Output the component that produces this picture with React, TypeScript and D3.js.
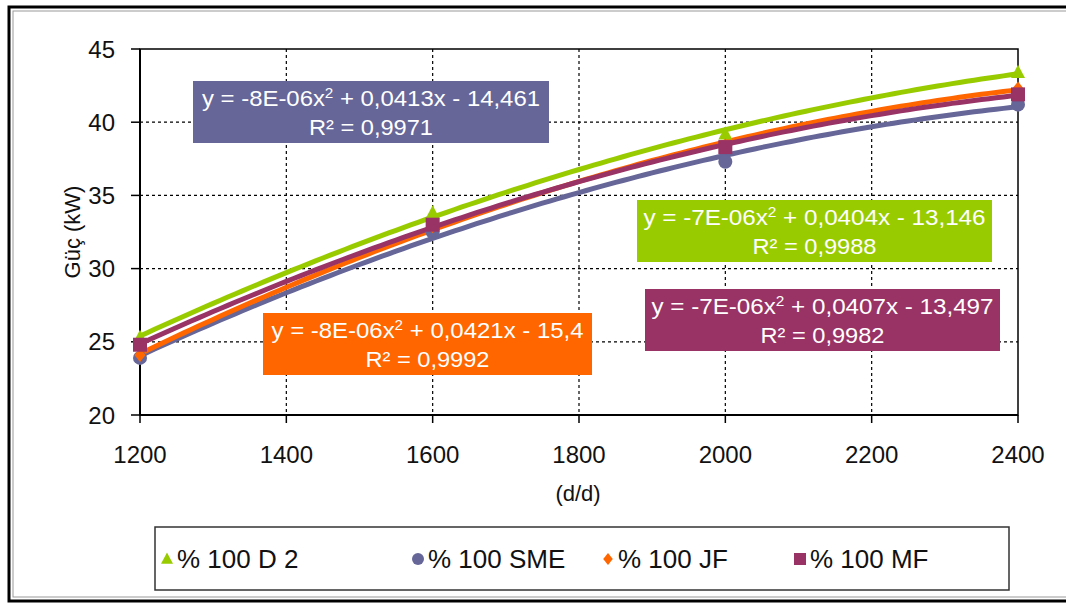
import React from 'react'
import * as d3 from 'd3'

// rpm values (d/d) and measured power (kW)
const rpm = [1200, 1600, 2000, 2400]
const d2Values = [25.3, 33.8, 39.2, 43.4]
const smeValues = [23.9, 32.5, 37.3, 41.2]
const jfValues = [24.1, 32.9, 38.4, 42.3]
const mfValues = [24.8, 33.0, 38.3, 41.9]

const xTicks = [1200, 1400, 1600, 1800, 2000, 2200, 2400]
const yTicks = [20, 25, 30, 35, 40, 45]

const seriesNames = ['% 100 D 2', '% 100 SME', '% 100 JF', '% 100 MF']
const seriesColors = ['#99cc00', '#666699', '#ff6600', '#993366']
const seriesShapes = ['triangle', 'circle', 'diamond', 'square']

const eqLine1 = [
  ['y = -7E-06x', ' + 0,0404x - 13,146'],
  ['y = -8E-06x', ' + 0,0413x - 14,461'],
  ['y = -8E-06x', ' + 0,0421x - 15,4'],
  ['y = -7E-06x', ' + 0,0407x - 13,497'],
]
const eqLine2 = ['R² = 0,9988', 'R² = 0,9971', 'R² = 0,9992', 'R² = 0,9982']

// label boxes [x, y, w, h, line1 length]
const eqBoxes = [
  [637, 200, 355, 62, 342],
  [193, 81, 356, 62, 338],
  [263, 313, 329, 62, 312],
  [645, 289, 355, 62, 342],
]

const margin = { left: 140, top: 49, right: 1018, bottom: 415 }
const font = 'Arial, "Liberation Sans", sans-serif'

// least squares quadratic, like an excel polynomial trendline
function quadFit(xs: number[], ys: number[]) {
  const s = [0, 0, 0, 0, 0]
  const t = [0, 0, 0]
  xs.forEach((x, i) => {
    for (let k = 0; k < 5; k++) s[k] += Math.pow(x, k)
    for (let k = 0; k < 3; k++) t[k] += Math.pow(x, k) * ys[i]
  })
  const m = [
    [s[0], s[1], s[2], t[0]],
    [s[1], s[2], s[3], t[1]],
    [s[2], s[3], s[4], t[2]],
  ]
  for (let i = 0; i < 3; i++) {
    for (let j = i + 1; j < 3; j++) {
      const f = m[j][i] / m[i][i]
      for (let k = i; k < 4; k++) m[j][k] -= f * m[i][k]
    }
  }
  const c = [0, 0, 0]
  for (let i = 2; i >= 0; i--) {
    let v = m[i][3]
    for (let k = i + 1; k < 3; k++) v -= m[i][k] * c[k]
    c[i] = v / m[i][i]
  }
  return (x: number) => c[0] + c[1] * x + c[2] * x * x
}

function Marker({ shape, x, y, color, size }: { shape: string; x: number; y: number; color: string; size: number }) {
  const h = size / 2
  if (shape === 'triangle')
    return <path d={`M${x},${y - h * 1.1}L${x + h},${y + h * 0.8}L${x - h},${y + h * 0.8}Z`} fill={color} />
  if (shape === 'circle') return <circle cx={x} cy={y} r={h} fill={color} />
  if (shape === 'diamond')
    return <path d={`M${x},${y - h}L${x + h * 0.8},${y}L${x},${y + h}L${x - h * 0.8},${y}Z`} fill={color} />
  return <rect x={x - h} y={y - h} width={size} height={size} fill={color} />
}

export default function App() {
  const x = d3.scaleLinear().domain([1200, 2400]).range([margin.left, margin.right])
  const y = d3.scaleLinear().domain([20, 45]).range([margin.bottom, margin.top])

  const allValues = [d2Values, smeValues, jfValues, mfValues]
  const curve = d3.range(1200, 2401, 10)
  const line = d3.line<[number, number]>().x(d => x(d[0])).y(d => y(d[1]))

  const legendX = [167, 418, 608, 800]

  return (
    <svg width={1066} height={604} style={{ position: 'absolute', left: 0, top: 0, background: '#fff' }} fontFamily={font}>
      <rect x={9} y={7} width={1070} height={594} fill="#fff" stroke="#000" strokeWidth={3} />
      <rect x={13} y={11} width={1070} height={586} fill="none" stroke="#999" strokeWidth={1} />

      {/* grid */}
      {xTicks.slice(1, -1).map(t => (
        <line key={'gx' + t} x1={x(t)} x2={x(t)} y1={margin.top} y2={margin.bottom} stroke="#000" strokeWidth={1.2} strokeDasharray="3,3" />
      ))}
      {yTicks.slice(1, -1).map(t => (
        <line key={'gy' + t} x1={margin.left} x2={margin.right} y1={y(t)} y2={y(t)} stroke="#000" strokeWidth={1.2} strokeDasharray="3,3" />
      ))}
      <rect x={margin.left} y={margin.top} width={margin.right - margin.left} height={margin.bottom - margin.top} fill="none" stroke="#000" strokeWidth={1.5} />
      <line x1={margin.left} x2={margin.left} y1={margin.top} y2={margin.bottom} stroke="#000" strokeWidth={2} />
      <line x1={margin.left} x2={margin.right} y1={margin.bottom} y2={margin.bottom} stroke="#000" strokeWidth={2} />

      {/* ticks */}
      {yTicks.map(t => (
        <g key={'ty' + t}>
          <line x1={margin.left - 9} x2={margin.left} y1={y(t)} y2={y(t)} stroke="#000" strokeWidth={1.5} />
          <text x={115} y={y(t)} dy="0.36em" textAnchor="end" fontSize={24} fill="#111">{t}</text>
        </g>
      ))}
      {xTicks.map(t => (
        <g key={'tx' + t}>
          <line x1={x(t)} x2={x(t)} y1={margin.bottom} y2={margin.bottom + 8} stroke="#000" strokeWidth={1.5} />
          <text x={x(t)} y={463} textAnchor="middle" fontSize={24} fill="#111">{t}</text>
        </g>
      ))}
      <text transform="translate(80,232) rotate(-90)" textAnchor="middle" fontSize={22} fill="#111">Güç (kW)</text>
      <text x={578} y={501} textAnchor="middle" fontSize={22} fill="#111">(d/d)</text>

      {/* trendlines */}
      {allValues.map((vals, i) => {
        const f = quadFit(rpm, vals)
        return (
          <path key={'l' + i} d={line(curve.map(v => [v, f(v)]) as [number, number][]) || ''} fill="none" stroke={seriesColors[i]} strokeWidth={5} />
        )
      })}
      {allValues.map((vals, i) =>
        vals.map((v, j) => (
          <Marker key={'m' + i + j} shape={seriesShapes[i]} x={x(rpm[j])} y={y(v)} color={seriesColors[i]} size={14} />
        ))
      )}

      {/* equation boxes */}
      {eqBoxes.map((b, i) => (
        <g key={'eq' + i}>
          <rect x={b[0]} y={b[1]} width={b[2]} height={b[3]} fill={seriesColors[i]} />
          <text x={b[0] + b[2] / 2} y={b[1] + 25} textAnchor="middle" fontSize={22} fill="#fff" textLength={b[4]} lengthAdjust="spacingAndGlyphs">
            {eqLine1[i][0]}
            <tspan fontSize={14} dy={-8}>2</tspan>
            <tspan dy={8}>{eqLine1[i][1]}</tspan>
          </text>
          <text x={b[0] + b[2] / 2} y={b[1] + 54} textAnchor="middle" fontSize={22} fill="#fff" textLength={124} lengthAdjust="spacingAndGlyphs">
            {eqLine2[i]}
          </text>
        </g>
      ))}

      {/* legend */}
      <rect x={155} y={527} width={854} height={63} fill="#fff" stroke="#333" strokeWidth={1.5} />
      {seriesNames.map((n, i) => (
        <g key={'lg' + i}>
          <Marker shape={seriesShapes[i]} x={legendX[i]} y={559} color={seriesColors[i]} size={12} />
          <text x={legendX[i] + 10} y={568} fontSize={26} fill="#111">{n}</text>
        </g>
      ))}
    </svg>
  )
}
